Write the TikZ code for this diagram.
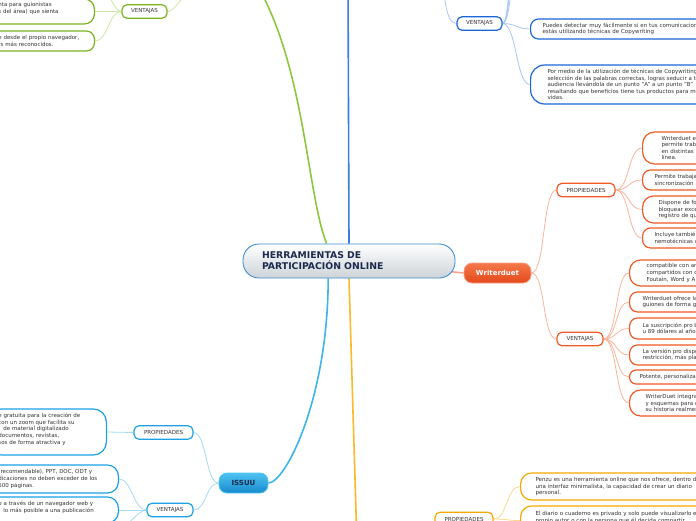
\documentclass[tikz,border=0pt]{standalone}
\usepackage{fontspec}
\setmainfont{DejaVu Sans}
\usetikzlibrary{backgrounds}
\definecolor{texto}{HTML}{333333}
\definecolor{marino}{HTML}{1B2A4E}
\definecolor{bordecentro}{HTML}{3F8FD2}
\definecolor{grisclaro}{HTML}{CDD3D8}
\definecolor{verde}{HTML}{7AB51D}
\definecolor{verdeclaro}{HTML}{CFE7A6}
\definecolor{verdetronco}{HTML}{8DC63F}
\definecolor{azul}{HTML}{1A66D8}
\definecolor{azulclaro}{HTML}{A8C6F0}
\definecolor{azultronco}{HTML}{3B7DDD}
\definecolor{cian}{HTML}{1DA1E6}
\definecolor{cianclaro}{HTML}{A3DAF4}
\definecolor{ciantronco}{HTML}{3DB4EA}
\definecolor{cianarriba}{HTML}{4FC3F2}
\definecolor{cianabajo}{HTML}{168ACB}
\definecolor{naranja}{HTML}{F15A24}
\definecolor{naranjaclaro}{HTML}{F8B49C}
\definecolor{naranjatronco}{HTML}{F6A189}
\definecolor{naranjaarriba}{HTML}{F4784A}
\definecolor{naranjaabajo}{HTML}{E4491B}
\definecolor{amarillo}{HTML}{F7A800}
\definecolor{amarilloclaro}{HTML}{FBD88C}
\definecolor{amarillotronco}{HTML}{FBB829}
\newcommand{\tamano}{\fontsize{5.5}{6.6}\selectfont}
\newcommand{\tamanosub}{\fontsize{5.5}{6.6}\selectfont}
\tikzset{
	centro/.style={draw=bordecentro, line width=0.9pt, rounded corners=16pt, top color=white, bottom color=grisclaro, minimum width=212pt, minimum height=34pt, text width=174pt, inner xsep=19pt, inner ysep=0pt, align=left, font=\fontsize{9.3}{11}\selectfont\bfseries, text=marino},
	tema/.style={line width=0.8pt, rounded corners=8pt, minimum height=20pt, inner sep=0pt, font=\fontsize{7}{8}\selectfont\bfseries},
	sub/.style={draw=#1, fill=white, line width=1.2pt, rounded corners=5pt, minimum height=13.5pt, inner sep=0pt, font=\tamanosub, text=texto},
	hoja/.style={draw=#1, fill=white, line width=1.2pt, rounded corners=8pt, inner ysep=0pt, inner xsep=12pt, text width=240pt, align=left, font=\tamano, text=texto},
	tronco/.style={draw=#1, line width=1.6pt},
	rama/.style={draw=#1, line width=0.8pt}
}
\begin{document}
\begin{tikzpicture}[x=1pt,y=-1pt]
	\useasboundingbox (0,0) rectangle (696,520);
	\clip (0,0) rectangle (696,520);

	\node[centro](HPO) at (349,261){HERRAMIENTAS DE\\PARTICIPACIÓN ONLINE};
	\node[tema, draw=naranjatronco, top color=naranjaarriba, bottom color=naranjaabajo, minimum width=67pt, text=white](WD) at (497.5,273){Writerduet};
	\node[tema, draw=cianarriba, top color=cianarriba, bottom color=cianabajo, minimum width=49pt, text=marino](ISSUU) at (243.5,483){ISSUU};

	\node[sub=verde, minimum width=45pt](GV) at (144.5,11.5){VENTAJAS};
	\node[sub=azul, minimum width=45pt](BV) at (479.5,23.5){VENTAJAS};
	\node[sub=naranja, minimum width=58pt](WP) at (586,190){PROPIEDADES};
	\node[sub=naranja, minimum width=46pt](WV) at (580,339){VENTAJAS};
	\node[sub=cian, minimum width=59pt](CP) at (163.5,432.5){PROPIEDADES};
	\node[sub=cian, minimum width=46pt](CV) at (170,510){VENTAJAS};
	\node[sub=amarillo, minimum width=58pt](YP) at (464,519){PROPIEDADES};

	\node[hoja=verde, anchor=east, inner xsep=10pt, text width=86pt, minimum height=25pt, rounded corners=10pt](G1) at (95,11.5){nta para guionistas\\s del área) que sienta\\\mbox{}};
	\node[hoja=verde, anchor=east, inner xsep=10pt, text width=86pt, minimum height=20pt](G2) at (95,41){e desde el propio navegador,\\rs más reconocidos.};

	\node[hoja=azul, anchor=west, minimum height=20pt](B1) at (530,29){Puedes detectar muy fácilmente si en tus comunicacion\\estás utilizando técnicas de Copywriting};
	\node[hoja=azul, anchor=west, inner xsep=17pt, minimum height=39pt, rounded corners=14pt](B2) at (530,84.5){Por medio de la utilización de técnicas de Copywriting\\selección de las palabras correctas, logras seducir a tu\\audiencia llevándola de un punto "A" a un punto "B"\\resaltando que beneficios tiene tus productos para me\\vidas.};

	\node[hoja=naranja, anchor=west, inner xsep=19pt, minimum height=32pt, rounded corners=12pt](WP1) at (642,148){Writerduet e\\permite trab\\en distintas p\\línea.};
	\node[hoja=naranja, anchor=west, minimum height=20pt](WP2) at (642,180){Permite trabaja\\sincronización a};
	\node[hoja=naranja, anchor=west, inner xsep=16pt, minimum height=27pt, rounded corners=11pt](WP3) at (642,209.5){Dispone de fo\\bloquear exce\\registro de qu};
	\node[hoja=naranja, anchor=west, minimum height=20pt](WP4) at (642,238){Incluye tambié\\nemotécnicas c};

	\node[hoja=naranja, anchor=west, inner xsep=17pt, minimum height=26pt, rounded corners=11pt](WV1) at (629,273){compatible con an\\compartidos con o\\Foutain, Word y A};
	\node[hoja=naranja, anchor=west, inner xsep=13pt, minimum height=20pt](WV2) at (629,302){Writerduet ofrece la\\guiones de forma g};
	\node[hoja=naranja, anchor=west, inner xsep=13pt, minimum height=21pt](WV3) at (629,328.5){La suscripción pro b\\u 89 dólares al año};
	\node[hoja=naranja, anchor=west, inner xsep=13pt, minimum height=20pt](WV4) at (629,355){La versión pro dispo\\restricción, más pla};
	\node[hoja=naranja, anchor=west, inner xsep=10pt, minimum height=14pt, rounded corners=6.5pt](WV5) at (629,377){Potente, personaliza};
	\node[hoja=naranja, anchor=west, inner xsep=16pt, minimum height=26pt, rounded corners=11pt](WV6) at (629,403){WriterDuet integra\\y esquemas para o\\su historia realmen};

	\node[hoja=cian, anchor=east, inner xsep=10pt, text width=98pt, minimum height=46pt, rounded corners=13pt](C1) at (107,432){e gratuita para la creación de\\con un zoom que facilita su\\\hspace*{5pt}de material digitalizado\\documentos, revistas,\\sos de forma atractiva y\\\mbox{}};
	\node[hoja=cian, anchor=east, inner xsep=10pt, text width=110pt, minimum height=28pt, rounded corners=11pt](C2) at (119,479){(recomendable), PPT, DOC, ODT y\\dicaciones no deben exceder de los\\500 páginas.};
	\node[hoja=cian, anchor=east, inner xsep=10pt, text width=110pt, minimum height=26pt, rounded corners=11pt](C3) at (119,510){o a través de un navegador web y\\\hspace*{5pt}lo más posible a una publicación\\\mbox{}};

	\node[hoja=amarillo, anchor=west, inner xsep=15pt, minimum height=27pt, rounded corners=11pt](Y1) at (520,486.5){Penzu es una herramienta online que nos ofrece, dentro d\\una interfaz minimalista, la capacidad de crear un diario\\personal.};
	\node[hoja=amarillo, anchor=west, inner xsep=15pt, minimum height=29pt, rounded corners=11pt](Y2) at (520,520.5){El diario o cuaderno es privado y solo puede visualizarlo e\\propio autor o con la persona que él decida compartir\\\mbox{}};

	\coordinate(VT) at (240,-40);
	\coordinate(AT) at (348,-20);
	\coordinate(AmT) at (357,545);
	\coordinate(GP) at (210,-30);
	\coordinate(GA) at (90,-30);
	\coordinate(BP) at (440,-30);
	\coordinate(BA1) at (525,-60);
	\coordinate(BA2) at (525,-100);
	\coordinate(BA3) at (525,-140);
	\coordinate(CA) at (100,545);

	\begin{scope}[on background layer]
		\clip (0,0) rectangle (696,520);
		\draw[tronco=verdetronco] (HPO.142) .. controls (305,190) and (305,40) .. (VT);
		\draw[tronco=azultronco] (HPO.north) -- (AT);
		\draw[tronco=ciantronco] (HPO.220) .. controls (328,400) and (285,483) .. (ISSUU.east);
		\draw[tronco=amarillotronco] (HPO.south) -- (AmT);
		\draw[tronco=naranjatronco] (HPO.center) -- (WD.west);

		\draw[rama=verdeclaro] (GV.east) .. controls +(10,0) and +(-12,0) .. (GP);
		\draw[rama=verdeclaro] (GV.west) .. controls +(-10,0) and +(12,0) .. (GA);
		\draw[rama=verdeclaro] (GV.west) .. controls +(-13,0) and +(13,0) .. (G1.east);
		\draw[rama=verdeclaro] (GV.west) .. controls +(-13,0) and +(13,0) .. (G2.east);

		\draw[rama=azulclaro] (BV.west) .. controls +(-12,0) and +(5,20) .. (BP);
		\draw[rama=azulclaro] (BV.east) .. controls +(10,0) and +(-14,0) .. (BA1);
		\draw[rama=azulclaro] (BV.east) .. controls +(10,0) and +(-14,0) .. (BA2);
		\draw[rama=azulclaro] (BV.east) .. controls +(10,0) and +(-14,0) .. (BA3);
		\draw[rama=azulclaro] (BV.east) .. controls +(14,0) and +(-14,0) .. (B1.west);
		\draw[rama=azulclaro] (BV.east) .. controls +(14,0) and +(-14,0) .. (B2.west);

		\draw[rama=naranjaclaro] (WD.east) .. controls +(14,0) and +(-14,0) .. (WP.west);
		\draw[rama=naranjaclaro] (WD.east) .. controls +(14,0) and +(-14,0) .. (WV.west);
		\draw[rama=naranjaclaro] (WP.east) .. controls +(14,0) and +(-14,0) .. (WP1.west);
		\draw[rama=naranjaclaro] (WP.east) .. controls +(14,0) and +(-14,0) .. (WP2.west);
		\draw[rama=naranjaclaro] (WP.east) .. controls +(14,0) and +(-14,0) .. (WP3.west);
		\draw[rama=naranjaclaro] (WP.east) .. controls +(14,0) and +(-14,0) .. (WP4.west);
		\draw[rama=naranjaclaro] (WV.east) .. controls +(14,0) and +(-14,0) .. (WV1.west);
		\draw[rama=naranjaclaro] (WV.east) .. controls +(14,0) and +(-14,0) .. (WV2.west);
		\draw[rama=naranjaclaro] (WV.east) .. controls +(14,0) and +(-14,0) .. (WV3.west);
		\draw[rama=naranjaclaro] (WV.east) .. controls +(14,0) and +(-14,0) .. (WV4.west);
		\draw[rama=naranjaclaro] (WV.east) .. controls +(14,0) and +(-14,0) .. (WV5.west);
		\draw[rama=naranjaclaro] (WV.east) .. controls +(14,0) and +(-14,0) .. (WV6.west);

		\draw[rama=cianclaro] (ISSUU.west) .. controls +(-13,0) and +(13,0) .. (CP.east);
		\draw[rama=cianclaro] (ISSUU.west) .. controls +(-13,0) and +(13,0) .. (CV.east);
		\draw[rama=cianclaro] (CP.west) .. controls +(-13,0) and +(13,0) .. (C1.east);
		\draw[rama=cianclaro] (CV.west) .. controls +(-13,0) and +(13,0) .. (C2.east);
		\draw[rama=cianclaro] (CV.west) .. controls +(-13,0) and +(13,0) .. (C3.east);
		\draw[rama=cianclaro] (CV.west) .. controls +(-10,0) and +(12,0) .. (CA);

		\draw[rama=amarilloclaro] (YP.east) .. controls +(14,0) and +(-14,0) .. (Y1.west);
		\draw[rama=amarilloclaro] (YP.east) .. controls +(14,0) and +(-14,0) .. (Y2.west);
	\end{scope}
\end{tikzpicture}
\end{document}
